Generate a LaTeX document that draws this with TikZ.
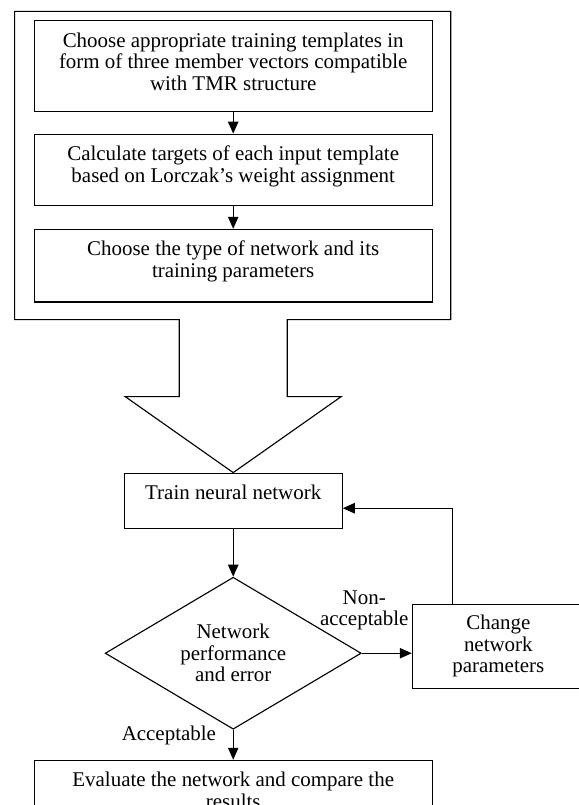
\documentclass[tikz,border=0pt]{standalone}
\usepackage{fontspec}
\setmainfont{Liberation Serif}
\usetikzlibrary{positioning, arrows.meta, shapes.geometric, calc}

\begin{document}
\begin{tikzpicture}[
    block/.style={
        draw,
        thick,
        align=center,
        minimum width=9.95cm,
        inner ysep=0.29cm,
        font=\fontsize{14.9}{15.3}\selectfont
    },
    trainblock/.style={
        draw,
        thick,
        align=center,
        minimum width=5.45cm,
        inner ysep=0.29cm,
        text depth=0.43cm,
        font=\fontsize{14.9}{15.3}\selectfont
    },
    changeblock/.style={
        draw,
        thick,
        align=center,
        minimum width=4.3cm,
        minimum height=2.1cm,
        font=\fontsize{14.9}{15.3}\selectfont
    },
    decision/.style={
        draw,
        thick,
        diamond,
        aspect=1.7,
        align=center,
        inner sep=0pt,
        minimum width=6.4cm,
        minimum height=3.8cm,
        font=\fontsize{14.9}{15.3}\selectfont
    },
    lbl/.style={align=center, font=\fontsize{14.9}{15.3}\selectfont},
    arrow/.style={-{Triangle[length=3mm, width=2.6mm]}, thick}
]
\useasboundingbox (0,0) rectangle (14.45,-20.125);

% Preparation steps
\node[block, text depth=0.235cm] (tmpl) at (5.83,-1.65) {Choose appropriate training templates in\\form of three member vectors compatible\\with TMR structure};
\node[block, text depth=0.29cm, below=0.55cm of tmpl] (targets) {Calculate targets of each input template\\based on Lorczak's weight assignment};
\node[block, text depth=0.33cm, below=0.575cm of targets] (nettype) {Choose the type of network and its\\training parameters};

% Training loop
\node[trainblock, below=4.25cm of nettype] (train) {Train neural network};
\node[decision, below=1.2cm of train] (perf) {Network\\performance\\and error};
\node[changeblock, right=1.25cm of perf, yshift=0.175cm] (change) {Change\\network\\parameters};
\node[block, text depth=0.32cm, below=0.75cm of perf] (evaluate) {Evaluate the network and compare the\\results};

% Frame round the preparation steps, running into the big arrow
\coordinate (otl) at ($(tmpl.north west)+(-0.475,0.225)$);
\coordinate (obr) at ($(nettype.south east)+(0.45,-0.425)$);
\coordinate (shl) at ($(train.north)+(-1.35,1.9)$);
\coordinate (shr) at ($(train.north)+(1.35,1.9)$);
\draw[thick] (otl) -| (obr) -| (shr) -- ++(1.35,0) -- (train.north) -- ++(-2.7,1.9) -- (shl) -- (shl |- obr) -| (otl) -- cycle;

% Arrows
\draw[arrow] (tmpl) -- (targets);
\draw[arrow] (targets) -- (nettype);
\draw[arrow] (train) -- (perf);
\draw[arrow] (perf.east) -- node[lbl, above=0.45cm, pos=0.05] {Non-\\acceptable} (perf.east -| change.west);
\draw[arrow] (perf) -- node[lbl, left=0.3cm, pos=0.2] {Acceptable} (evaluate);
\draw[arrow] ([xshift=-1.15cm]change.north) |- ([yshift=-0.19cm]train.east);

\end{tikzpicture}
\end{document}
